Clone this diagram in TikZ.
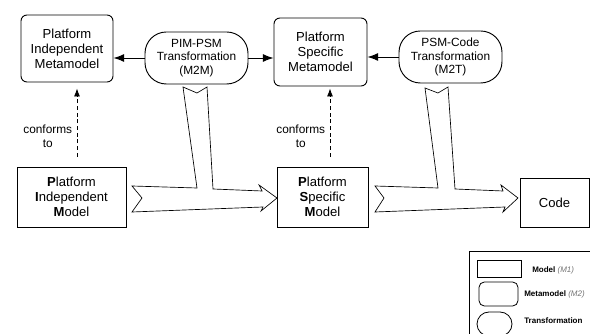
\documentclass[tikz,border=0pt]{standalone}
\usepackage{fontspec}
\setmainfont{Liberation Sans}
\usetikzlibrary{arrows.meta}
\begin{document}
\begin{tikzpicture}[x=0.75pt,y=-0.75pt,
  meta/.style={draw, rounded corners=4.5pt, line width=0.7pt, align=center, inner sep=0pt, font=\fontsize{9.8}{11.3}\selectfont},
  model/.style={draw, line width=0.7pt, align=center, inner sep=0pt, font=\fontsize{9.8}{11.3}\selectfont},
  trans/.style={draw, rounded corners=16pt, line width=0.7pt, align=center, inner sep=0pt, font=\fontsize{8.9}{10.1}\selectfont},
  conf/.style={densely dashed, line width=0.6pt, -{Latex[length=6pt,width=4.5pt]}},
  uses/.style={line width=0.7pt, -{Latex[length=8pt,width=6pt]}},
  block/.style={draw, fill=white, line width=0.5pt},
  lbl/.style={font=\fontsize{8.9}{10.1}\selectfont, align=center},
  leg/.style={font=\fontsize{6}{7}\selectfont\bfseries, inner sep=0pt, anchor=west}]
\useasboundingbox (0,0) rectangle (590,334);
\clip (0,0) rectangle (590,334);

\node[meta, minimum width=69pt, minimum height=50.25pt] (pimm) at (67,48.5) {Platform\\Independent\\Metamodel};
\node[trans, minimum width=77.25pt, minimum height=39pt] (m2m) at (196.5,58) {PIM-PSM\\Transformation\\(M2M)};
\node[meta, minimum width=69.75pt, minimum height=51pt] (psmm) at (320.5,52) {Platform\\Specific\\Metamodel};
\node[trans, minimum width=77.25pt, minimum height=39pt] (m2t) at (450.5,57) {PSM-Code\\Transformation\\(M2T)};

\node[model, minimum width=81.75pt, minimum height=45pt] (pim) at (71.5,197) {\textbf{P}latform\\\textbf{I}ndependent\\\textbf{M}odel};
\node[model, minimum width=68.25pt, minimum height=45pt] (psm) at (322.5,197) {\textbf{P}latform\\\textbf{S}pecific\\\textbf{M}odel};
\node[model, minimum width=51.75pt, minimum height=36.75pt] (code) at (554.5,202.5) {Code};

\draw[uses] (m2m.west) -- (m2m.west -| pimm.east);
\draw[uses] (m2m.east) -- (m2m.east -| psmm.west);
\draw[uses] (m2t.west) -- (m2t.west -| psmm.east);

\draw[conf] ([shift={(5.5,-10)}]pim.north) -- node[lbl, pos=0.3, left] {conforms\\to} ([shift={(10,6)}]pimm.south);
\draw[conf] ([shift={(7.5,-10)}]psm.north) -- node[lbl, pos=0.3, left] {conforms\\to} ([shift={(9.5,2)}]psmm.south);

\draw[block] (132,186) -- (197,188) -- (183,87) -- (197,93) -- (207,87) -- (213,189) -- (262,191) -- (259,185) -- (277,198) -- (261,211) -- (263,207) -- (132,212) -- (142,198) -- cycle;
\draw[block] (375,186) -- (438,188) -- (425,88) -- (438,93) -- (448,87) -- (455,189) -- (503,191) -- (501,185) -- (518,198) -- (503,212) -- (505,207) -- (375,212) -- (384,198) -- cycle;

\draw[line width=0.6pt] (469,251) rectangle (600,345);
\node[model, line width=0.6pt, minimum width=33pt, minimum height=12.75pt] (lmodel) at (499,268.5) {};
\node[meta, line width=0.6pt, rounded corners=4pt, minimum width=29.25pt, minimum height=18pt] (lmeta) at (498.5,294) {};
\node[trans, line width=0.6pt, rounded corners=9pt, minimum width=26.25pt, minimum height=18pt] (ltrans) at (494.5,324) {};
\node[leg] (lmodeltext) at (532,270) {Model {\mdseries\itshape\color{black!55}(M1)}};
\node[leg] (lmetatext) at (524,294) {Metamodel {\mdseries\itshape\color{black!55}(M2)}};
\node[leg] (ltranstext) at (524,321) {Transformation};
\end{tikzpicture}
\end{document}
